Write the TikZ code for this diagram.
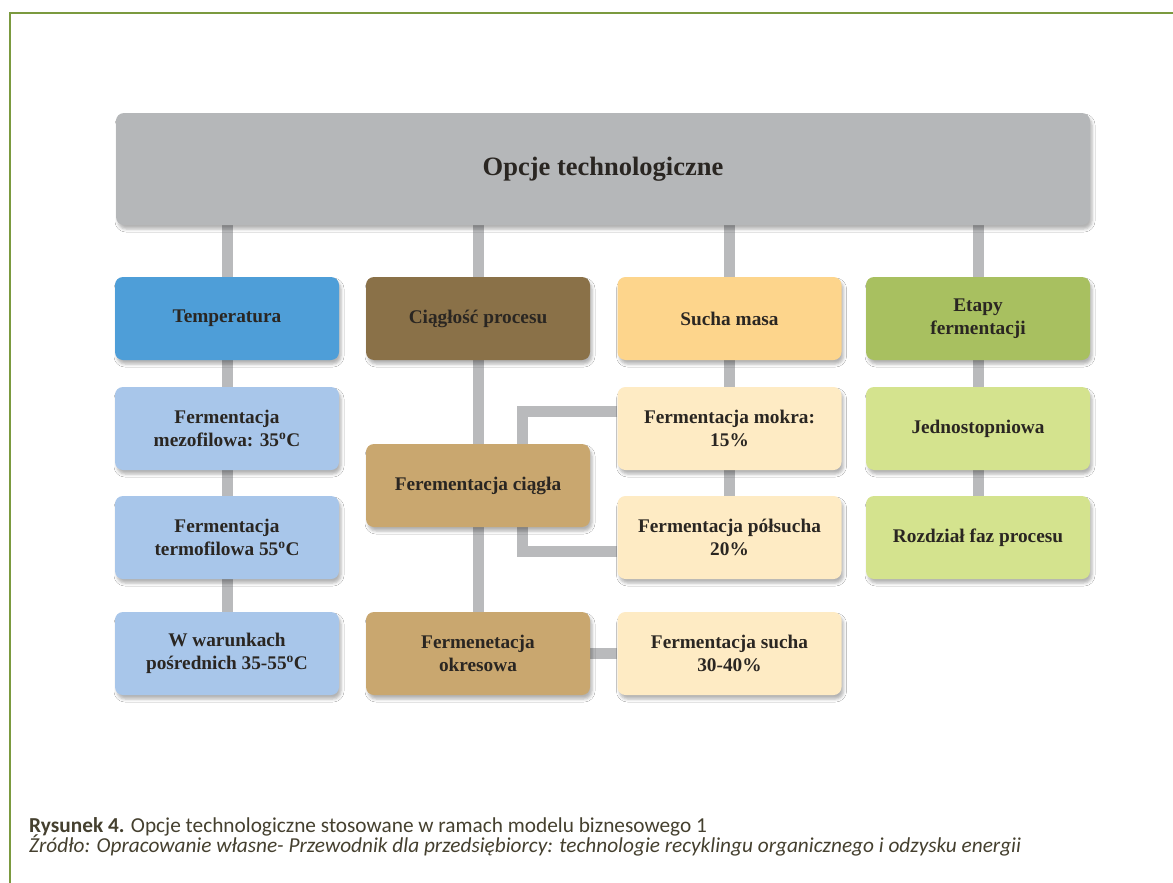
\documentclass[tikz,border=0pt]{standalone}
\usepackage{fontspec}
\setmainfont{Liberation Serif}
\newfontfamily\capfont{Carlito}
\usetikzlibrary{shadows.blur}
\pgfdeclarelayer{background}
\pgfsetlayers{background,main}

\definecolor{frame}{HTML}{7B9A3F}
\definecolor{topgray}{HTML}{B5B7B9}
\definecolor{linkgray}{HTML}{B9BABC}
\definecolor{tempdark}{HTML}{4E9ED8}
\definecolor{templight}{HTML}{A8C6EA}
\definecolor{contdark}{HTML}{8A7148}
\definecolor{contlight}{HTML}{C9A76F}
\definecolor{drydark}{HTML}{FDD58C}
\definecolor{drylight}{HTML}{FEEBC4}
\definecolor{stagedark}{HTML}{A8C060}
\definecolor{stagelight}{HTML}{D4E38E}
\definecolor{txt}{HTML}{2A2622}
\definecolor{captxt}{HTML}{45402F}

\tikzset{
  box/.style={rounded corners=8pt, minimum width=224pt, minimum height=83pt,
    align=center, inner sep=0pt, text=txt,
    font=\bfseries\fontsize{19.3}{23.5}\selectfont,
    blur shadow={shadow xshift=2pt, shadow yshift=-4pt, shadow blur radius=3pt, shadow opacity=30}},
  link/.style={draw=linkgray, line width=11pt},
  captext/.style={anchor=base west, inner sep=0pt, text=captxt},
}

\begin{document}
\begin{tikzpicture}[x=1pt, y=-1pt]
\useasboundingbox (0,0) rectangle (1173,883);

% top box
\node[box, fill=topgray, minimum width=974pt, minimum height=112pt,
      font=\bfseries\fontsize{26.5}{30}\selectfont] (top) at (603,169) {Opcje technologiczne};

% category headers
\node[box, fill=tempdark]  (temp)  at (227,318.5) {Temperatura};
\node[box, fill=contdark]  (cont)  at (478,318.5) {Ciągłość procesu};
\node[box, fill=drydark]   (dry)   at (729.5,318.5) {Sucha masa};
\node[box, fill=stagedark] (stage) at (978,318.5) {Etapy\\fermentacji};

% temperature options
\node[box, fill=templight] (meso)   at (227,428.5) {Fermentacja\\mezofilowa: 35\textsuperscript{o}C};
\node[box, fill=templight] (thermo) at (227,537.5) {Fermentacja\\termofilowa 55\textsuperscript{o}C};
\node[box, fill=templight] (mid)    at (227,653.5) {W warunkach\\pośrednich 35-55\textsuperscript{o}C};

% process continuity options
\node[box, fill=contlight] (contin) at (478,485.5) {Ferementacja ciągła};
\node[box, fill=contlight] (batch)  at (478,653.5) {Fermenetacja\\okresowa};

% dry matter options
\node[box, fill=drylight] (wet)  at (729.5,428.5) {Fermentacja mokra:\\15\%};
\node[box, fill=drylight] (semi) at (729.5,537.5) {Fermentacja półsucha\\20\%};
\node[box, fill=drylight] (dryf) at (729.5,653.5) {Fermentacja sucha\\30-40\%};

% fermentation stage options
\node[box, fill=stagelight] (one) at (978,428.5) {Jednostopniowa};
\node[box, fill=stagelight] (two) at (978,537.5) {Rozdział faz procesu};

% caption
\node[captext, font=\capfont\fontsize{21.3}{21}\selectfont] (cap1) at (29,832)
  {\textbf{Rysunek 4.} Opcje technologiczne stosowane w ramach modelu biznesowego 1};
\node[captext, font=\capfont\itshape\fontsize{21.3}{21}\selectfont] (cap2) at (29,852.5)
  {Źródło: Opracowanie własne- Przewodnik dla przedsiębiorcy: technologie recyklingu organicznego i odzysku energii};

% paper, frame and connectors, all behind the boxes
\begin{pgfonlayer}{background}
  \fill[white] (0,0) rectangle (1173,883);
  \draw[frame, line width=2.5pt] (10,883) -- (10,13) -- (1173,13);
  \foreach \n in {temp,cont,dry,stage}
    \draw[link] (top.south -| \n.north) -- (\n.north);
  \draw[link] (temp) -- (meso);
  \draw[link] (meso) -- (thermo);
  \draw[link] (thermo) -- (mid);
  \draw[link] (cont) -- (batch);
  \draw[link] (dry) -- (wet);
  \draw[link] (wet) -- (semi);
  \draw[link] (stage) -- (one);
  \draw[link] (one) -- (two);
  \draw[link] (batch) -- (dryf);
  \coordinate (bt) at ([yshift=17pt]wet.west);
  \coordinate (bb) at ([yshift=-14pt]semi.west);
  \draw[link, line join=miter] (bt) -- (bt -| 522,0) -- (bb -| 522,0) -- (bb);
\end{pgfonlayer}
\end{tikzpicture}
\end{document}
